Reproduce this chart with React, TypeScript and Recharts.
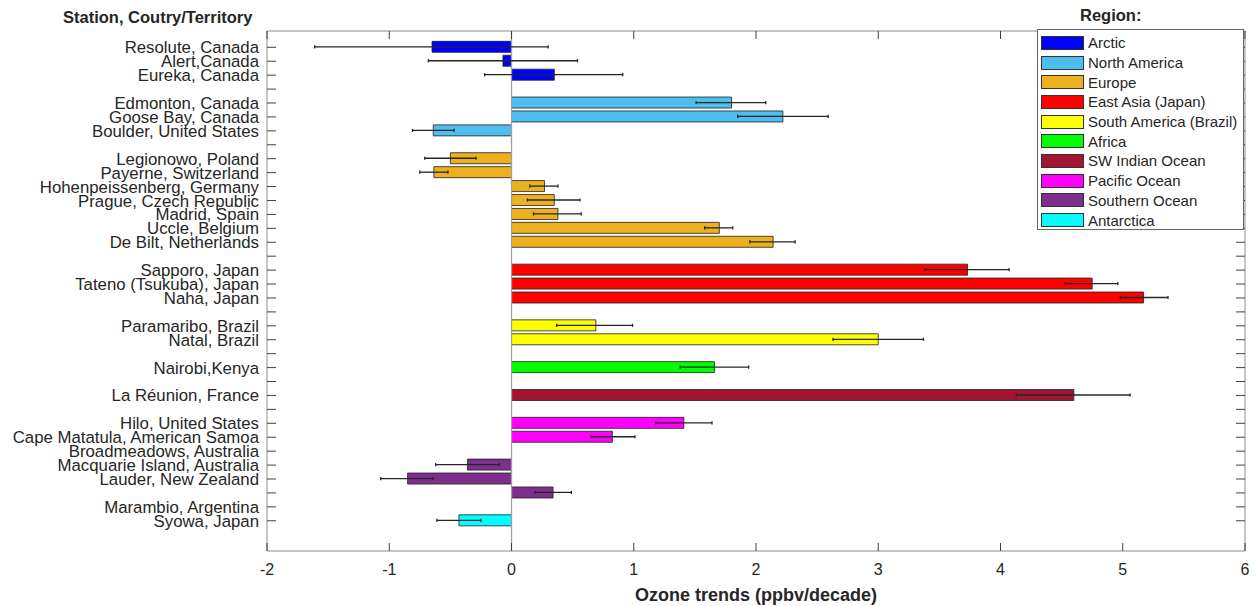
import React from "react";
import {
  ComposedChart,
  Bar,
  Cell,
  XAxis,
  YAxis,
  ErrorBar,
  ReferenceLine,
  Legend,
  Label,
} from "recharts";

const FONT = '"Liberation Sans", Arial, Helvetica, sans-serif';
const TEXT = "#262626";
const FRAME = "#8c8c8c";
const TICK = "#404040";

// y-axis rows, top to bottom ("" = spacer row between regions)
const stations = [
  "Resolute, Canada",
  "Alert,Canada",
  "Eureka, Canada",
  "",
  "Edmonton, Canada",
  "Goose Bay, Canada",
  "Boulder, United States",
  "",
  "Legionowo, Poland",
  "Payerne, Switzerland",
  "Hohenpeissenberg, Germany",
  "Prague, Czech Republic",
  "Madrid, Spain",
  "Uccle, Belgium",
  "De Bilt, Netherlands",
  "",
  "Sapporo, Japan",
  "Tateno (Tsukuba), Japan",
  "Naha, Japan",
  "",
  "Paramaribo, Brazil",
  "Natal, Brazil",
  "",
  "Nairobi,Kenya",
  "",
  "La Réunion, France",
  "",
  "Hilo, United States",
  "Cape Matatula, American Samoa",
  "Broadmeadows, Australia",
  "Macquarie Island, Australia",
  "Lauder, New Zealand",
  "",
  "Marambio, Argentina",
  "Syowa, Japan",
];

const regions = [
  "Arctic",
  "North America",
  "Europe",
  "East Asia (Japan)",
  "South America (Brazil)",
  "Africa",
  "SW Indian Ocean",
  "Pacific Ocean",
  "Southern Ocean",
  "Antarctica",
];
const regionColors = [
  "#0000FF",
  "#4DBEEE",
  "#EDB120",
  "#FF0000",
  "#FFFF00",
  "#00FF00",
  "#A2142F",
  "#FF00FF",
  "#7E2F8E",
  "#00FFFF",
];

// bars: row on the y axis, region index, trend and its interval
const barRows = [0, 1, 2, 4, 5, 6, 8, 9, 10, 11, 12, 13, 14, 16, 17, 18, 20, 21, 23, 25, 27, 28, 30, 31, 32, 34, 35];
const barRegion = [0, 0, 0, 1, 1, 1, 2, 2, 2, 2, 2, 2, 2, 3, 3, 3, 4, 4, 5, 6, 7, 7, 8, 8, 8, 9, -1];
const trends = [-0.65, -0.07, 0.35, 1.8, 2.22, -0.64, -0.5, -0.635, 0.27, 0.35, 0.38, 1.7, 2.14, 3.73, 4.75, 5.17, 0.69, 3.0, 1.66, 4.6, 1.41, 0.825, -0.36, -0.85, 0.34, -0.43, 0];
const lowerCI = [-1.61, -0.68, -0.22, 1.51, 1.85, -0.81, -0.71, -0.75, 0.15, 0.13, 0.18, 1.58, 1.95, 3.38, 4.53, 4.98, 0.37, 2.63, 1.38, 4.13, 1.18, 0.65, -0.62, -1.07, 0.19, -0.61, -0.185];
const upperCI = [0.3, 0.54, 0.91, 2.08, 2.59, -0.47, -0.29, -0.52, 0.38, 0.56, 0.57, 1.81, 2.32, 4.07, 4.96, 5.37, 0.99, 3.37, 1.94, 5.06, 1.64, 1.01, -0.1, -0.64, 0.49, -0.25, 0.19];

const xTicks = [-2, -1, 0, 1, 2, 3, 4, 5, 6];
const rowTicks = stations.map((_, i) => i);
const rowDomain = [-1.17, 36.17];

const rows = barRows.map((pos, i) => ({
  pos,
  trend: trends[i],
  lo: lowerCI[i],
  hi: upperCI[i],
  region: barRegion[i],
}));

const TICK_MARGIN = 8;

function StationTick({ x, y, payload }: any) {
  const axisX = x + TICK_MARGIN;
  return (
    <g>
      <line x1={axisX} x2={axisX + 9} y1={y} y2={y} stroke={TICK} strokeWidth={1} />
      <text
        x={x}
        y={y}
        dy="0.36em"
        textAnchor="end"
        fill={TEXT}
        fontFamily={FONT}
        fontSize={16.8}
      >
        {stations[payload.value]}
      </text>
    </g>
  );
}

function RightTick({ x, y }: any) {
  return <line x1={x - 9} x2={x} y1={y} y2={y} stroke={TICK} strokeWidth={1} />;
}

function BottomTick({ x, y, payload }: any) {
  return (
    <g>
      <line x1={x} x2={x} y1={y} y2={y - 8} stroke={TICK} strokeWidth={1} />
      <text x={x} y={y + 24} textAnchor="middle" fill={TEXT} fontFamily={FONT} fontSize={16}>
        {payload.value}
      </text>
    </g>
  );
}

function TopTick({ x, y }: any) {
  return <line x1={x} x2={x} y1={y} y2={y + 8} stroke={TICK} strokeWidth={1} />;
}

function RegionLegend() {
  return (
    <div
      style={{
        border: "1px solid #666",
        background: "#fff",
        width: 207,
        height: 201,
        boxSizing: "border-box",
        padding: "3px 0 0 3px",
        fontFamily: FONT,
        fontSize: 15,
        color: TEXT,
      }}
    >
      {regions.map((r, i) => (
        <div key={r} style={{ display: "flex", alignItems: "center", height: 19.7 }}>
          <span
            style={{
              display: "inline-block",
              width: 43,
              height: 14,
              background: regionColors[i],
              border: "1px solid #333",
              boxSizing: "border-box",
              marginRight: 4,
            }}
          />
          <span>{r}</span>
        </div>
      ))}
    </div>
  );
}

export default function App() {
  return (
    <div
      style={{
        position: "absolute",
        left: 0,
        top: 0,
        width: 1256,
        height: 606,
        background: "#fff",
        fontFamily: FONT,
      }}
    >
      <ComposedChart
        width={1256}
        height={606}
        layout="vertical"
        data={rows}
        margin={{ top: 30, right: 10, bottom: 0, left: 0 }}
      >
        <XAxis
          type="number"
          domain={[-2, 6]}
          ticks={xTicks}
          allowDataOverflow
          height={55}
          axisLine={{ stroke: FRAME }}
          tickLine={false}
          tickSize={0}
          tickMargin={0}
          tick={<BottomTick />}
          interval={0}
        >
          <Label
            value="Ozone trends (ppbv/decade)"
            position="insideBottom"
            offset={5}
            fill={TEXT}
            fontFamily={FONT}
            fontSize={18}
            fontWeight="bold"
          />
        </XAxis>
        <XAxis
          xAxisId="top"
          orientation="top"
          type="number"
          domain={[-2, 6]}
          ticks={xTicks}
          allowDataOverflow
          height={1}
          axisLine={{ stroke: FRAME }}
          tickLine={false}
          tickSize={0}
          tickMargin={0}
          tick={<TopTick />}
          interval={0}
        />
        <YAxis
          type="number"
          dataKey="pos"
          domain={rowDomain}
          allowDataOverflow
          ticks={rowTicks}
          interval={0}
          width={267}
          axisLine={{ stroke: FRAME }}
          tickLine={false}
          tickSize={0}
          tickMargin={TICK_MARGIN}
          tick={<StationTick />}
        />
        <YAxis
          yAxisId="right"
          orientation="right"
          type="number"
          dataKey="pos"
          domain={rowDomain}
          allowDataOverflow
          ticks={rowTicks}
          interval={0}
          width={1}
          axisLine={{ stroke: FRAME }}
          tickLine={false}
          tickSize={0}
          tickMargin={0}
          tick={<RightTick />}
        />
        <ReferenceLine x={0} stroke="#a0a0a0" strokeWidth={1.3} />
        <Bar
          dataKey="trend"
          barSize={11}
          stroke="#1f1f1f"
          strokeWidth={0.8}
          isAnimationActive={false}
        >
          {rows.map((r, i) => (
            <Cell key={i} fill={r.region >= 0 ? regionColors[r.region] : "none"} />
          ))}
          <ErrorBar
            dataKey={(d: any) => [d.trend - d.lo, d.hi - d.trend]}
            direction="x"
            width={1.6}
            stroke="#262626"
            strokeWidth={1.3}
            isAnimationActive={false}
          />
        </Bar>
        <Legend
          layout="horizontal"
          verticalAlign="middle"
          align="center"
          wrapperStyle={{ top: 29, left: 1037, width: 207, height: 201 }}
          content={() => <RegionLegend />}
        />
      </ComposedChart>
      <div
        style={{
          position: "absolute",
          left: 63,
          top: 7,
          lineHeight: "20px",
          fontSize: 16.5,
          fontWeight: "bold",
          color: TEXT,
        }}
      >
        Station, Coutry/Territory
      </div>
      <div
        style={{
          position: "absolute",
          left: 1080,
          top: 5,
          lineHeight: "20px",
          fontSize: 16.5,
          fontWeight: "bold",
          color: TEXT,
        }}
      >
        Region:
      </div>
    </div>
  );
}
